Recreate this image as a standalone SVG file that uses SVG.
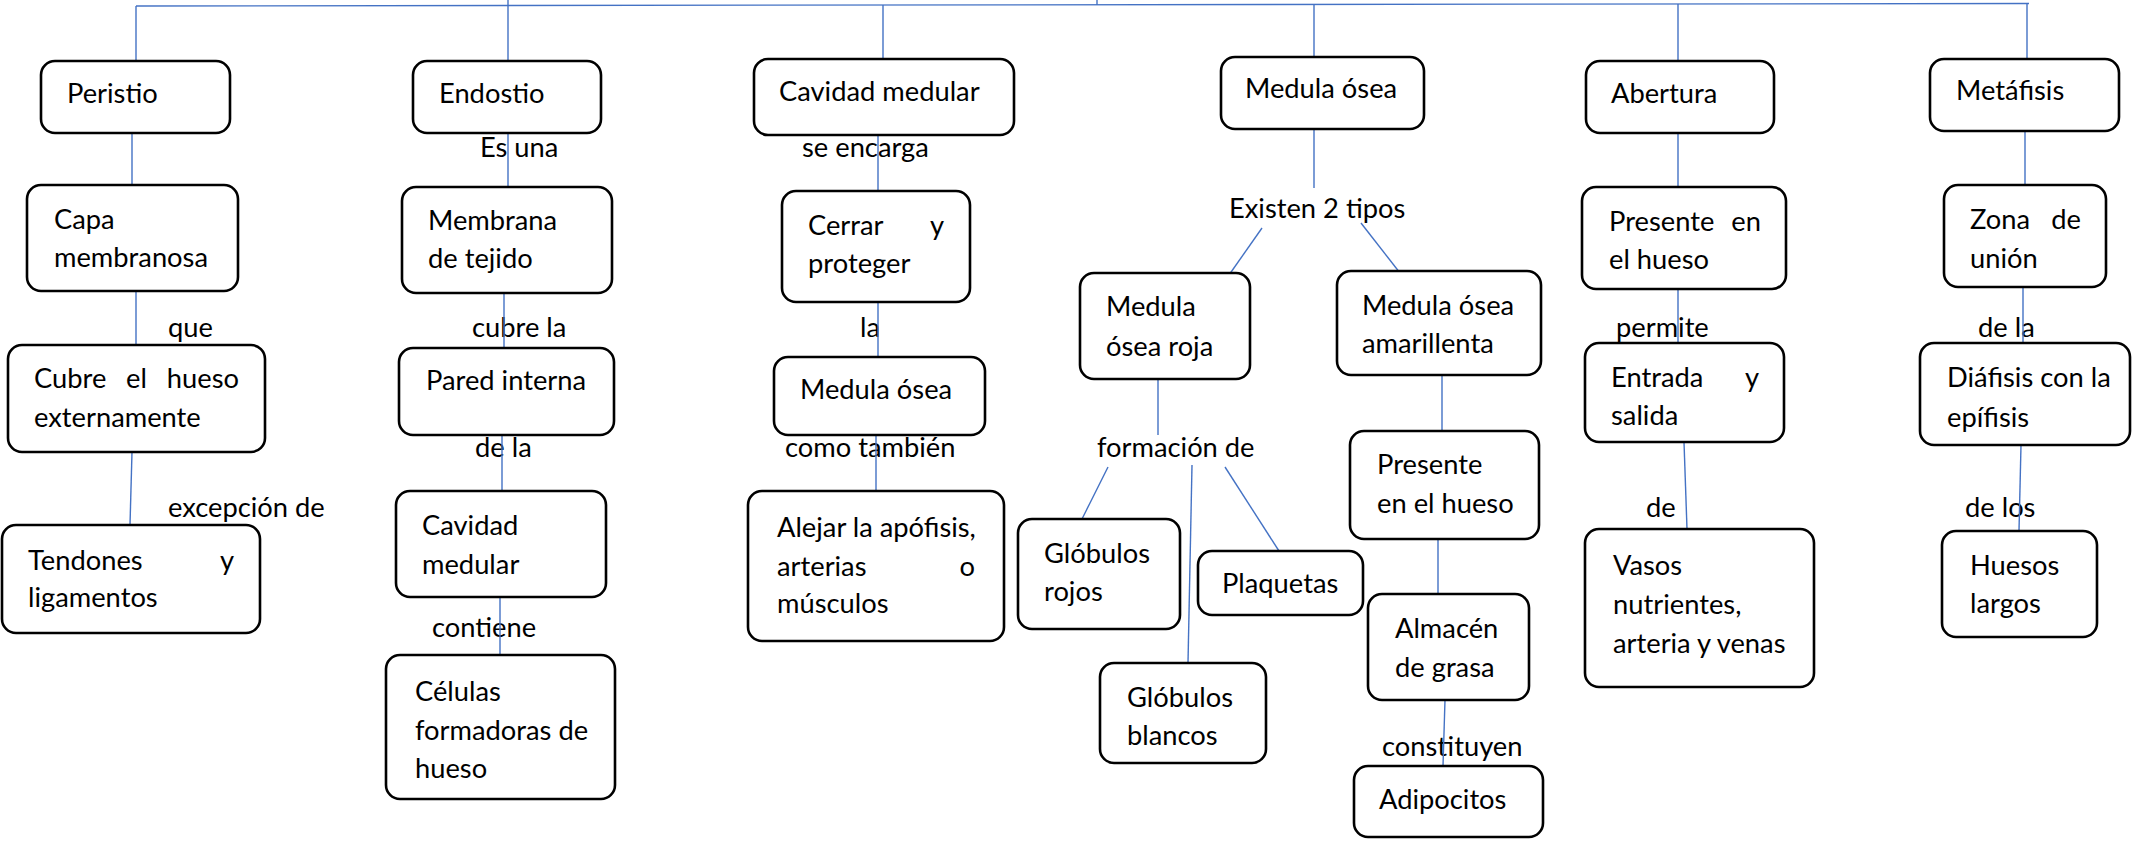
<svg xmlns="http://www.w3.org/2000/svg" width="2134" height="843" viewBox="0 0 2134 843">
<style>
text{font-family:Lato,"Liberation Sans",sans-serif;font-size:27.3px;fill:#000}
.b{fill:#fff;stroke:#000;stroke-width:2.6}
.c line,.c polyline{stroke:#4472C4;stroke-width:1.4;fill:none}
.e{text-anchor:end}
</style>
<rect width="2134" height="843" fill="#fff"/>
<g id="labels">
<text x="168" y="337">que</text>
<text x="168" y="517">excepción de</text>
<text x="480" y="157">Es una</text>
<text x="472" y="337">cubre la</text>
<text x="475" y="457">de la</text>
<text x="432" y="637">contiene</text>
<text x="802" y="157">se encarga</text>
<text x="860" y="337">la</text>
<text x="785" y="457">como también</text>
<text x="1229" y="218">Existen 2 tipos</text>
<text x="1097" y="457">formación de</text>
<text x="1382" y="756">constituyen</text>
<text x="1616" y="337">permite</text>
<text x="1646" y="517">de</text>
<text x="1978" y="337">de la</text>
<text x="1965" y="517">de los</text>
</g>
<g id="connectors" class="c">
<polyline points="136,6 2029,3.5"/>
<line x1="1097" y1="0" x2="1097" y2="5"/>
<line x1="136" y1="6" x2="136" y2="61"/>
<line x1="508" y1="0" x2="508" y2="61"/>
<line x1="883" y1="5" x2="883" y2="59"/>
<line x1="1314" y1="4.5" x2="1314" y2="57"/>
<line x1="1678" y1="4" x2="1678" y2="61"/>
<line x1="2027" y1="3.5" x2="2027" y2="59"/>
<line x1="132" y1="133" x2="132" y2="185"/>
<line x1="136" y1="291" x2="136" y2="345"/>
<line x1="132" y1="452" x2="130" y2="525"/>
<line x1="508" y1="133" x2="508" y2="187"/>
<line x1="504" y1="293" x2="504" y2="348"/>
<line x1="502" y1="435" x2="502" y2="491"/>
<line x1="500" y1="597" x2="500" y2="655"/>
<line x1="878" y1="135" x2="878" y2="191"/>
<line x1="878" y1="302" x2="878" y2="357"/>
<line x1="876" y1="435" x2="876" y2="491"/>
<line x1="1314" y1="129" x2="1314" y2="188"/>
<line x1="1262" y1="228" x2="1229" y2="275"/>
<line x1="1361" y1="223" x2="1400" y2="273"/>
<line x1="1158" y1="379" x2="1158" y2="435"/>
<line x1="1108" y1="467" x2="1082" y2="519"/>
<line x1="1192" y1="465" x2="1188" y2="663"/>
<line x1="1225" y1="467" x2="1279" y2="551"/>
<line x1="1442" y1="375" x2="1442" y2="431"/>
<line x1="1438" y1="539" x2="1438" y2="594"/>
<line x1="1445" y1="700" x2="1443" y2="766"/>
<line x1="1678" y1="133" x2="1678" y2="187"/>
<line x1="1678" y1="289" x2="1678" y2="343"/>
<line x1="1684" y1="442" x2="1687" y2="529"/>
<line x1="2025" y1="131" x2="2025" y2="185"/>
<line x1="2023" y1="287" x2="2023" y2="343"/>
<line x1="2021" y1="445" x2="2019" y2="531"/>
</g>
<g id="peristio"><rect class="b" x="41" y="61" width="189" height="72" rx="14"/><text x="67" y="103">Peristio</text></g>
<g id="capa"><rect class="b" x="27" y="185" width="211" height="106" rx="14"/><text x="54" y="229">Capa</text><text x="54" y="267">membranosa</text></g>
<g id="cubre"><rect class="b" x="8" y="345" width="257" height="107" rx="14"/><text x="34" y="388">Cubre</text><text x="126" y="388">el</text><text class="e" x="239" y="388">hueso</text><text x="34" y="427">externamente</text></g>
<g id="tendones"><rect class="b" x="2" y="525" width="258" height="108" rx="14"/><text x="28" y="570">Tendones</text><text class="e" x="234" y="570">y</text><text x="28" y="607">ligamentos</text></g>
<g id="endostio"><rect class="b" x="413" y="61" width="188" height="72" rx="14"/><text x="439" y="103">Endostio</text></g>
<g id="membrana"><rect class="b" x="402" y="187" width="210" height="106" rx="14"/><text x="428" y="230">Membrana</text><text x="428" y="268">de tejido</text></g>
<g id="pared"><rect class="b" x="399" y="348" width="215" height="87" rx="14"/><text x="426" y="390">Pared interna</text></g>
<g id="cavidad-endostio"><rect class="b" x="396" y="491" width="210" height="106" rx="14"/><text x="422" y="535">Cavidad</text><text x="422" y="574">medular</text></g>
<g id="celulas"><rect class="b" x="386" y="655" width="229" height="144" rx="14"/><text x="415" y="701">Células</text><text x="415" y="740">formadoras de</text><text x="415" y="778">hueso</text></g>
<g id="cavidad"><rect class="b" x="754" y="59" width="260" height="76" rx="14"/><text x="779" y="101">Cavidad medular</text></g>
<g id="cerrar"><rect class="b" x="782" y="191" width="188" height="111" rx="14"/><text x="808" y="235">Cerrar</text><text class="e" x="944" y="235">y</text><text x="808" y="273">proteger</text></g>
<g id="medula-cavidad"><rect class="b" x="774" y="357" width="211" height="78" rx="14"/><text x="800" y="399">Medula ósea</text></g>
<g id="alejar"><rect class="b" x="748" y="491" width="256" height="150" rx="14"/><text x="777" y="537">Alejar la apófisis,</text><text x="777" y="576">arterias</text><text class="e" x="975" y="576">o</text><text x="777" y="613">músculos</text></g>
<g id="medula"><rect class="b" x="1221" y="57" width="203" height="72" rx="14"/><text x="1245" y="98">Medula ósea</text></g>
<g id="roja"><rect class="b" x="1080" y="273" width="170" height="106" rx="14"/><text x="1106" y="316">Medula</text><text x="1106" y="356">ósea roja</text></g>
<g id="amarillenta"><rect class="b" x="1337" y="271" width="204" height="104" rx="14"/><text x="1362" y="315">Medula ósea</text><text x="1362" y="353">amarillenta</text></g>
<g id="globulos-rojos"><rect class="b" x="1018" y="519" width="162" height="110" rx="14"/><text x="1044" y="563">Glóbulos</text><text x="1044" y="601">rojos</text></g>
<g id="plaquetas"><rect class="b" x="1198" y="551" width="165" height="64" rx="14"/><text x="1222" y="593">Plaquetas</text></g>
<g id="globulos-blancos"><rect class="b" x="1100" y="663" width="166" height="100" rx="14"/><text x="1127" y="707">Glóbulos</text><text x="1127" y="745">blancos</text></g>
<g id="presente-amarilla"><rect class="b" x="1350" y="431" width="189" height="108" rx="14"/><text x="1377" y="474">Presente</text><text x="1377" y="513">en el hueso</text></g>
<g id="almacen"><rect class="b" x="1368" y="594" width="161" height="106" rx="14"/><text x="1395" y="638">Almacén</text><text x="1395" y="677">de grasa</text></g>
<g id="adipocitos"><rect class="b" x="1354" y="766" width="189" height="71" rx="14"/><text x="1379" y="809">Adipocitos</text></g>
<g id="abertura"><rect class="b" x="1586" y="61" width="188" height="72" rx="14"/><text x="1611" y="103">Abertura</text></g>
<g id="presente"><rect class="b" x="1582" y="187" width="204" height="102" rx="14"/><text x="1609" y="231">Presente</text><text class="e" x="1761" y="231">en</text><text x="1609" y="269">el hueso</text></g>
<g id="entrada"><rect class="b" x="1585" y="343" width="199" height="99" rx="14"/><text x="1611" y="387">Entrada</text><text class="e" x="1759" y="387">y</text><text x="1611" y="425">salida</text></g>
<g id="vasos"><rect class="b" x="1585" y="529" width="229" height="158" rx="14"/><text x="1613" y="575">Vasos</text><text x="1613" y="614">nutrientes,</text><text x="1613" y="653">arteria y venas</text></g>
<g id="metafisis"><rect class="b" x="1930" y="59" width="189" height="72" rx="14"/><text x="1956" y="100">Metáfisis</text></g>
<g id="zona"><rect class="b" x="1944" y="185" width="162" height="102" rx="14"/><text x="1970" y="229">Zona</text><text class="e" x="2081" y="229">de</text><text x="1970" y="268">unión</text></g>
<g id="diafisis"><rect class="b" x="1920" y="343" width="210" height="102" rx="14"/><text x="1947" y="387">Diáfisis con la</text><text x="1947" y="427">epífisis</text></g>
<g id="huesos"><rect class="b" x="1942" y="531" width="155" height="106" rx="14"/><text x="1970" y="575">Huesos</text><text x="1970" y="613">largos</text></g>
</svg>
